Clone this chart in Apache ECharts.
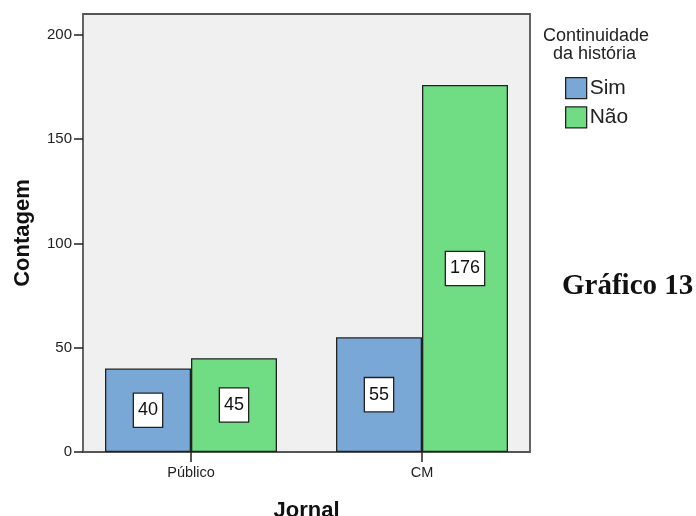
<!DOCTYPE html>
<html><head><meta charset="utf-8">
<script src="https://cdn.jsdelivr.net/npm/echarts@6/dist/echarts.min.js"></script>
<style>html,body{margin:0;padding:0;background:#fff}#c{width:696px;height:516px}</style>
</head><body><div id="c"></div>
<script>
const categories = ['Público', 'CM'];
const seriesNames = ['Sim', 'Não'];
const simValues = [40, 55];
const naoValues = [45, 176];
const yTicks = [0, 50, 100, 150, 200];

const chart = echarts.init(document.getElementById('c'));
const labelStyle = {
  show: true, position: 'inside', color: '#111', fontFamily: 'Arial, Liberation Sans', fontSize: 18,
  backgroundColor: '#fff', borderColor: '#222', borderWidth: 1.3, padding: [8, 4, 7, 4], lineHeight: 18
};
chart.setOption({
  animation: false,
  grid: [
    {left: 75.5, right: 158.5, top: 14, bottom: 64, show: false, outerBoundsMode: 'none', containLabel: false},
    {left: 83, right: 166, top: 14, bottom: 64, show: true, backgroundColor: '#f0f0f0', borderColor: '#555', borderWidth: 1.8, z: 0, outerBoundsMode: 'none', containLabel: false}
  ],
  xAxis: [
    {type: 'category', gridIndex: 0, data: categories,
     axisLine: {show: false},
     axisTick: {show: true, alignWithLabel: true, length: 10, lineStyle: {color: '#222', width: 1.5}},
     axisLabel: {color: '#222', fontFamily: 'Arial, Liberation Sans', fontSize: 14.5, margin: 13},
     name: 'Jornal', nameLocation: 'middle', nameGap: 48,
     nameTextStyle: {fontFamily: 'Arial, Liberation Sans', fontWeight: 'bold', fontSize: 22, color: '#111'}},
    {type: 'value', gridIndex: 1, show: false}
  ],
  yAxis: [
    {type: 'value', gridIndex: 0, min: 0, max: 210, interval: 50, offset: -7.5,
     axisLine: {show: false},
     axisTick: {show: true, length: 9, lineStyle: {color: '#222', width: 1.5}, customValues: yTicks},
     axisLabel: {color: '#222', fontFamily: 'Arial, Liberation Sans', fontSize: 15, margin: 11, customValues: yTicks},
     splitLine: {show: false},
     name: 'Contagem', nameLocation: 'middle', nameGap: 49, nameRotate: 90,
     nameTextStyle: {fontFamily: 'Arial, Liberation Sans', fontWeight: 'bold', fontSize: 22, color: '#111'}},
    {type: 'value', gridIndex: 1, show: false}
  ],
  legend: {
    orient: 'vertical', left: 565, top: 77, padding: 0, itemWidth: 21, itemHeight: 21, itemGap: 7,
    icon: 'rect', data: seriesNames,
    textStyle: {fontFamily: 'Arial, Liberation Sans', fontSize: 21, color: '#222', padding: [0, 0, 0, -2]},
    itemStyle: {borderColor: '#222', borderWidth: 1.3}
  },
  graphic: [
    {type: 'text', left: 543, top: 27, style: {text: 'Continuidade', fontFamily: 'Arial, Liberation Sans', fontSize: 18, fill: '#222'}},
    {type: 'text', left: 553, top: 45, style: {text: 'da história', fontFamily: 'Arial, Liberation Sans', fontSize: 18, fill: '#222'}},
    {type: 'text', left: 562, top: 272, style: {text: 'Gráfico 13', fontFamily: 'Liberation Serif, Times New Roman', fontWeight: 'bold', fontSize: 29, fill: '#111'}}
  ],
  series: [
    {name: seriesNames[0], type: 'bar', xAxisIndex: 0, yAxisIndex: 0, data: simValues, barWidth: 86, barGap: '0%',
     itemStyle: {color: '#7aa8d6', borderColor: '#222', borderWidth: 1.3}, label: labelStyle},
    {name: seriesNames[1], type: 'bar', xAxisIndex: 0, yAxisIndex: 0, data: naoValues, barWidth: 86, barGap: '0%',
     itemStyle: {color: '#70dc84', borderColor: '#222', borderWidth: 1.3}, label: labelStyle}
  ]
});
</script></body></html>
